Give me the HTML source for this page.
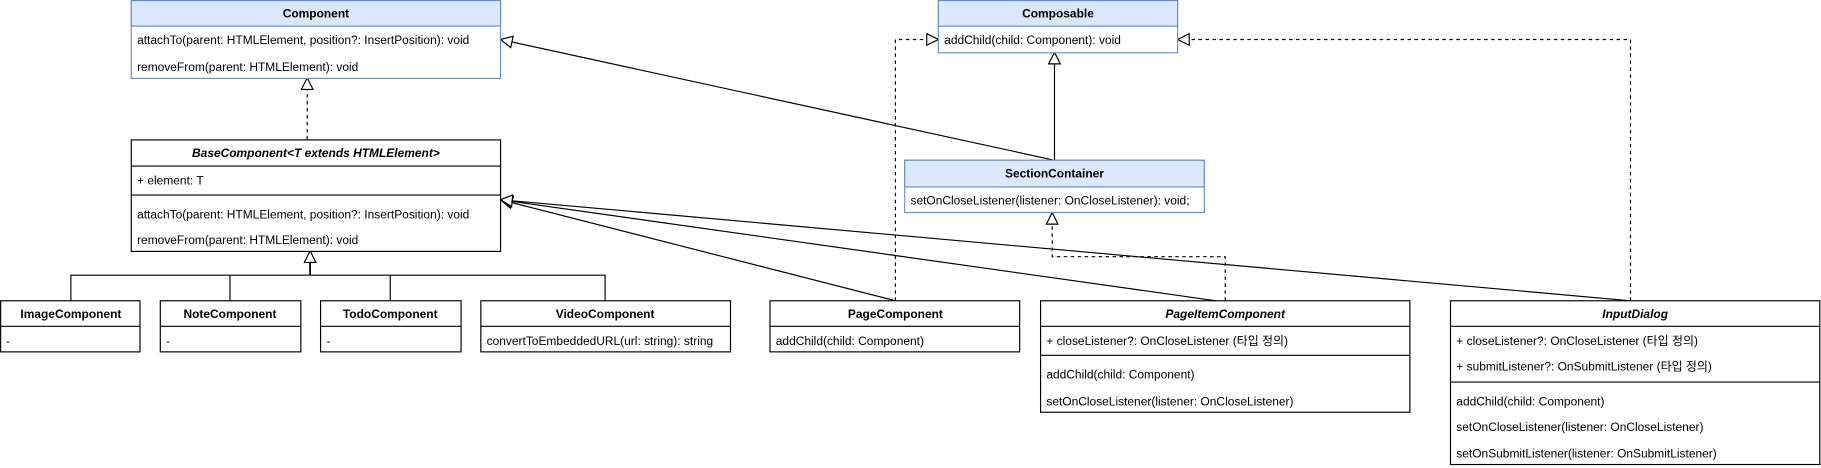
<!DOCTYPE html>
<html><head><meta charset="utf-8"><style>html,body{margin:0;padding:0;background:#fff;width:1821px;height:468px;overflow:hidden}</style></head>
<body>
<svg width="1821" height="468" viewBox="0 0 1568 403" xmlns="http://www.w3.org/2000/svg" font-family="Liberation Sans, Noto Sans CJK KR, sans-serif" font-size="10.3">
<defs>
<marker id="tri" viewBox="0 0 12 12" refX="11" refY="6" markerWidth="12" markerHeight="12" markerUnits="userSpaceOnUse" orient="auto">
<path d="M1,1 L11,6 L1,11 Z" fill="#fff" stroke="#000" stroke-width="1"/>
</marker>
</defs>
<g fill="none" stroke="#000" stroke-width="1">
<line x1="264.5" y1="120" x2="264.5" y2="67" stroke-dasharray="3,3" marker-end="url(#tri)"/>
<polyline points="61,259 61,237 521,237 521,259"/>
<line x1="198" y1="237" x2="198" y2="259"/><line x1="336" y1="237" x2="336" y2="259"/>
<line x1="267" y1="237" x2="267" y2="216" stroke-width="1.5" marker-end="url(#tri)"/>
<line x1="908" y1="138" x2="908" y2="45" marker-end="url(#tri)"/>
<line x1="908" y1="138" x2="431" y2="34" marker-end="url(#tri)"/>
<polyline points="771,259 771,34 808,34" stroke-dasharray="3,3" marker-end="url(#tri)"/>
<polyline points="1404,259 1404,34 1014,34" stroke-dasharray="3,3" marker-end="url(#tri)"/>
<polyline points="1055,259 1055,221 906,221 906,183" stroke-dasharray="3,3" marker-end="url(#tri)"/>
<line x1="771" y1="259" x2="431" y2="172" marker-end="url(#tri)"/>
<line x1="1047" y1="259" x2="431" y2="172" marker-end="url(#tri)"/>
<line x1="1404" y1="259" x2="431" y2="172" marker-end="url(#tri)"/>
</g>
<g stroke-width="1">
<rect x="113" y="0.5" width="318" height="67" fill="#fff" stroke="#6c8ebf"/>
<rect x="113" y="0.5" width="318" height="22" fill="#dae8fc" stroke="#6c8ebf"/>
<rect x="808" y="0.5" width="206" height="45" fill="#fff" stroke="#6c8ebf"/>
<rect x="808" y="0.5" width="206" height="22" fill="#dae8fc" stroke="#6c8ebf"/>
<rect x="779" y="138" width="258" height="45" fill="#fff" stroke="#6c8ebf"/>
<rect x="779" y="138" width="258" height="23" fill="#dae8fc" stroke="#6c8ebf"/>
<g fill="#fff" stroke="#000">
<rect x="113" y="120.5" width="318" height="96"/><line x1="113" y1="143" x2="431" y2="143"/><line x1="113" y1="168" x2="431" y2="168"/>
<rect x="0.5" y="259" width="120" height="44"/><line x1="0" y1="281" x2="121" y2="281"/>
<rect x="138" y="259" width="121" height="44"/><line x1="138" y1="281" x2="259" y2="281"/>
<rect x="276" y="259" width="121" height="44"/><line x1="276" y1="281" x2="397" y2="281"/>
<rect x="414" y="259" width="215" height="44"/><line x1="414" y1="281" x2="629" y2="281"/>
<rect x="663" y="259" width="215" height="44"/><line x1="663" y1="281" x2="878" y2="281"/>
<rect x="896" y="259" width="318" height="96"/><line x1="896" y1="281" x2="1214" y2="281"/><line x1="896" y1="306" x2="1214" y2="306"/>
<rect x="1249" y="259" width="318" height="141"/><line x1="1249" y1="281" x2="1567" y2="281"/><line x1="1249" y1="329" x2="1567" y2="329"/>
</g>
</g>
<g fill="#000">
<g font-weight="bold" text-anchor="middle">
<text x="272" y="15">Component</text>
<text x="911" y="15">Composable</text>
<text x="908" y="153">SectionContainer</text>
<text x="272" y="135" font-style="italic">BaseComponent&lt;T extends HTMLElement&gt;</text>
<text x="61" y="274">ImageComponent</text>
<text x="198" y="274">NoteComponent</text>
<text x="336" y="274">TodoComponent</text>
<text x="521" y="274">VideoComponent</text>
<text x="771" y="274">PageComponent</text>
<text x="1055" y="274" font-style="italic">PageItemComponent</text>
<text x="1408" y="274" font-style="italic">InputDialog</text>
</g>
<text x="118" y="38">attachTo(parent: HTMLElement, position?: InsertPosition): void</text>
<text x="118" y="61">removeFrom(parent: HTMLElement): void</text>
<text x="813" y="38">addChild(child: Component): void</text>
<text x="784" y="176">setOnCloseListener(listener: OnCloseListener): void;</text>
<text x="118" y="159">+ element: T</text>
<text x="118" y="188">attachTo(parent: HTMLElement, position?: InsertPosition): void</text>
<text x="118" y="210">removeFrom(parent: HTMLElement): void</text>
<text x="5" y="297">-</text>
<text x="143" y="297">-</text>
<text x="281" y="297">-</text>
<text x="419" y="297">convertToEmbeddedURL(url: string): string</text>
<text x="668" y="297">addChild(child: Component)</text>
<text x="901" y="297">+ closeListener?: OnCloseListener (타입 정의)</text>
<text x="901" y="326">addChild(child: Component)</text>
<text x="901" y="349">setOnCloseListener(listener: OnCloseListener)</text>
<text x="1254" y="297">+ closeListener?: OnCloseListener (타입 정의)</text>
<text x="1254" y="319">+ submitListener?: OnSubmitListener (타입 정의)</text>
<text x="1254" y="349">addChild(child: Component)</text>
<text x="1254" y="371">setOnCloseListener(listener: OnCloseListener)</text>
<text x="1254" y="394">setOnSubmitListener(listener: OnSubmitListener)</text>
</g>
</svg>
</body></html>
